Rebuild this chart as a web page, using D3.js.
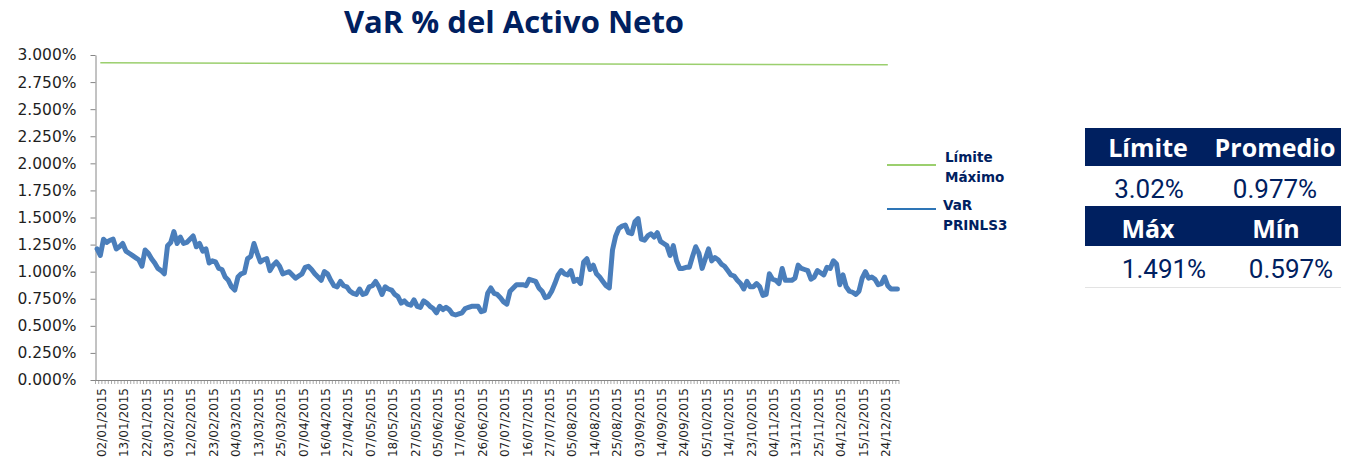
<!DOCTYPE html>
<html>
<head>
<meta charset="utf-8">
<script src="https://cdn.jsdelivr.net/npm/d3@7"></script>
<style>
    body { margin: 0; background: #fff; }
    svg { display: block; }
</style>
</head>
<body>
<svg id="chart"></svg>
<script>
// ---- data ----
// business days (Mexico calendar) from 31/12/2014 to 31/12/2015, minus these
const skipDays = [
    "01/01/2015", "02/02/2015", "16/03/2015", "02/04/2015", "03/04/2015",
    "01/05/2015", "10/06/2015", "16/09/2015", "02/11/2015", "16/11/2015", "25/12/2015"
];

const tickLabels = [
    "02/01/2015", "13/01/2015", "22/01/2015", "03/02/2015", "12/02/2015", "23/02/2015",
    "04/03/2015", "13/03/2015", "25/03/2015", "07/04/2015", "16/04/2015", "27/04/2015",
    "07/05/2015", "18/05/2015", "27/05/2015", "05/06/2015", "17/06/2015", "26/06/2015",
    "07/07/2015", "16/07/2015", "27/07/2015", "05/08/2015", "14/08/2015", "25/08/2015",
    "03/09/2015", "14/09/2015", "24/09/2015", "05/10/2015", "14/10/2015", "23/10/2015",
    "04/11/2015", "13/11/2015", "25/11/2015", "04/12/2015", "15/12/2015", "24/12/2015"
];

// VaR PRINLS3, % of net assets
const varValues = [
    1.21, 1.15, 1.30, 1.27, 1.29, 1.30, 1.21, 1.23, 1.26, 1.19,
    1.17, 1.15, 1.13, 1.11, 1.05, 1.20, 1.17, 1.12, 1.08, 1.03,
    1.01, 0.98, 1.24, 1.27, 1.37, 1.26, 1.32, 1.26, 1.27, 1.30,
    1.33, 1.23, 1.26, 1.19, 1.21, 1.08, 1.10, 1.09, 1.03, 1.02,
    0.95, 0.92, 0.86, 0.83, 0.95, 0.98, 0.99, 1.12, 1.14, 1.26,
    1.17, 1.09, 1.11, 1.12, 1.01, 1.06, 1.09, 1.05, 0.98, 0.99,
    1.00, 0.97, 0.94, 0.96, 0.98, 1.04, 1.05, 1.02, 0.98, 0.95,
    0.92, 1.00, 0.98, 0.92, 0.87, 0.86, 0.91, 0.87, 0.86, 0.82,
    0.80, 0.79, 0.84, 0.79, 0.80, 0.86, 0.87, 0.91, 0.86, 0.79,
    0.86, 0.84, 0.83, 0.79, 0.77, 0.71, 0.73, 0.70, 0.69, 0.74,
    0.68, 0.67, 0.73, 0.71, 0.68, 0.66, 0.62, 0.68, 0.65, 0.67,
    0.65, 0.61, 0.60, 0.61, 0.62, 0.66, 0.67, 0.68, 0.68, 0.68,
    0.63, 0.64, 0.80, 0.85, 0.80, 0.79, 0.76, 0.72, 0.70, 0.82,
    0.85, 0.88, 0.88, 0.88, 0.87, 0.93, 0.92, 0.91, 0.85, 0.82,
    0.76, 0.77, 0.82, 0.89, 0.97, 1.01, 0.98, 0.97, 1.01, 0.91,
    0.93, 0.89, 1.09, 1.12, 1.02, 1.06, 0.98, 0.95, 0.91, 0.87,
    0.85, 1.20, 1.33, 1.40, 1.42, 1.43, 1.36, 1.35, 1.46, 1.49,
    1.30, 1.29, 1.33, 1.35, 1.32, 1.36, 1.28, 1.26, 1.24, 1.15,
    1.24, 1.10, 1.03, 1.03, 1.04, 1.04, 1.14, 1.23, 1.17, 1.03,
    1.12, 1.21, 1.10, 1.13, 1.11, 1.07, 1.05, 1.01, 0.97, 0.96,
    0.92, 0.89, 0.84, 0.91, 0.86, 0.86, 0.89, 0.86, 0.78, 0.79,
    0.98, 0.93, 0.92, 0.89, 1.03, 0.92, 0.92, 0.92, 0.94, 1.06,
    1.03, 1.02, 1.01, 0.93, 0.95, 1.01, 0.99, 0.97, 1.04, 1.03,
    1.10, 1.07, 0.88, 0.97, 0.86, 0.82, 0.81, 0.79, 0.82, 0.94,
    1.00, 0.94, 0.95, 0.93, 0.88, 0.89, 0.95, 0.87, 0.84, 0.84,
    0.84
];

// Límite Máximo
const limitDates = ["02/01/2015", "28/12/2015"];
const limitValues = [2.928, 2.910];

const yTickValues = [0, 0.25, 0.5, 0.75, 1, 1.25, 1.5, 1.75, 2, 2.25, 2.5, 2.75, 3];

const legendLabels = [["Límite", "Máximo"], ["VaR", "PRINLS3"]];

const tableHeaderTop = ["Límite", "Promedio"];
const tableValuesTop = ["3.02%", "0.977%"];
const tableHeaderBottom = ["Máx", "Mín"];
const tableValuesBottom = ["1.491%", "0.597%"];

// ---- build categories ----
const parseDate = d3.utcParse("%d/%m/%Y");
const fmtDate = d3.utcFormat("%d/%m/%Y");
const dates = d3.utcDay
    .range(parseDate("31/12/2014"), parseDate("01/01/2016"))
    .filter(d => d.getUTCDay() !== 0 && d.getUTCDay() !== 6)
    .map(fmtDate)
    .filter(d => !skipDays.includes(d));

const config = {
    width: 1350,
    height: 459,
    plot: { left: 95.5, right: 899, top: 55, bottom: 380 },
    navy: "#002060",
    axisColor: "#868686"
};

const svg = d3.select("#chart")
    .attr("width", config.width)
    .attr("height", config.height);

// scales
const xBand = d3.scaleBand()
    .domain(dates)
    .range([config.plot.left, config.plot.right])
    .padding(0);
const xCenter = d => xBand(d) + xBand.bandwidth() / 2;

const yScale = d3.scaleLinear()
    .domain([0, 3])
    .range([config.plot.bottom, config.plot.top]);

// title
svg.append("text")
    .attr("x", 514)
    .attr("y", 33)
    .attr("text-anchor", "middle")
    .style("font-family", "'Open Sans', sans-serif")
    .style("font-weight", 700)
    .style("font-size", "31px")
    .style("fill", config.navy)
    .text("VaR % del Activo Neto");

// y axis
const yAxis = d3.axisLeft(yScale)
    .tickValues(yTickValues)
    .tickSize(5)
    .tickSizeOuter(0)
    .tickFormat(d => d.toFixed(3) + "%");

const yAxisG = svg.append("g")
    .attr("transform", `translate(${config.plot.left},0)`)
    .call(yAxis);
yAxisG.select(".domain").attr("stroke", config.axisColor);
yAxisG.selectAll(".tick line").attr("stroke", config.axisColor);
yAxisG.selectAll(".tick text")
    .attr("x", -19)
    .style("font-family", "'DejaVu Sans', sans-serif")
    .style("font-size", "15.5px")
    .style("fill", "#1f1f1f");

// x axis: line, one tick between every category, rotated labels
const xAxisG = svg.append("g").attr("class", "x-axis");
xAxisG.append("line")
    .attr("x1", config.plot.left)
    .attr("x2", config.plot.right)
    .attr("y1", config.plot.bottom + 0.5)
    .attr("y2", config.plot.bottom + 0.5)
    .attr("stroke", config.axisColor);

xAxisG.selectAll(".cat-tick")
    .data(dates.map(d => xBand(d)).concat([config.plot.right]))
    .enter()
    .append("line")
    .attr("class", "cat-tick")
    .attr("x1", d => d)
    .attr("x2", d => d)
    .attr("y1", config.plot.bottom)
    .attr("y2", config.plot.bottom + 4)
    .attr("stroke", config.axisColor)
    .attr("stroke-width", 0.7);

xAxisG.selectAll(".x-label")
    .data(tickLabels)
    .enter()
    .append("text")
    .attr("class", "x-label")
    .attr("transform", d => `translate(${xCenter(d) + 1.5},${config.plot.bottom + 8}) rotate(-90)`)
    .attr("text-anchor", "end")
    .attr("dy", "0.35em")
    .attr("textLength", 69)
    .attr("lengthAdjust", "spacingAndGlyphs")
    .style("font-family", "'DejaVu Sans', sans-serif")
    .style("font-size", "11.5px")
    .style("fill", "#1f1f1f")
    .text(d => d);

// series
const limitLine = d3.line()
    .x(d => xCenter(d.date))
    .y(d => yScale(d.value));
svg.append("path")
    .datum(limitDates.map((d, i) => ({ date: d, value: limitValues[i] })))
    .attr("d", limitLine)
    .attr("fill", "none")
    .attr("stroke", "#9bcf6e")
    .attr("stroke-width", 1.5);

const varLine = d3.line()
    .x((d, i) => xCenter(dates[i]))
    .y(d => yScale(d));
svg.append("path")
    .datum(varValues)
    .attr("d", varLine)
    .attr("fill", "none")
    .attr("stroke", "#4a7ebb")
    .attr("stroke-width", 5)
    .attr("stroke-linejoin", "round")
    .attr("stroke-linecap", "round");

// legend
const legend = svg.append("g").attr("class", "legend");
const legendColors = ["#9bcf6e", "#2e75b6"];
const legendLineY = [165, 209];
const legendTextY = [162, 210];
legendLabels.forEach((lines, i) => {
    legend.append("line")
        .attr("x1", 887).attr("x2", 936)
        .attr("y1", legendLineY[i]).attr("y2", legendLineY[i])
        .attr("stroke", legendColors[i])
        .attr("stroke-width", 2);
    lines.forEach((t, j) => {
        legend.append("text")
            .attr("x", i === 0 ? 945 : 943)
            .attr("y", legendTextY[i] + j * 20)
            .style("font-family", "'DejaVu Sans', sans-serif")
            .style("font-weight", 700)
            .style("font-size", "13.5px")
            .style("fill", config.navy)
            .text(t);
    });
});

// stats table
const table = svg.append("g").attr("class", "stats");
const tableX = 1085, tableW = 256;
const headerRows = [
    { y: 128, h: 38, base: 157, labels: tableHeaderTop, xs: [1148, 1275] },
    { y: 206, h: 40, base: 238, labels: tableHeaderBottom, xs: [1148, 1276] }
];
const valueRows = [
    { base: 198, labels: tableValuesTop, xs: [1149, 1275] },
    { base: 278, labels: tableValuesBottom, xs: [1164, 1291] }
];

headerRows.forEach(row => {
    table.append("rect")
        .attr("x", tableX).attr("y", row.y)
        .attr("width", tableW).attr("height", row.h)
        .attr("fill", config.navy);
    row.labels.forEach((t, i) => {
        table.append("text")
            .attr("x", row.xs[i]).attr("y", row.base)
            .attr("text-anchor", "middle")
            .style("font-family", "'Open Sans', sans-serif")
            .style("font-weight", 700)
            .style("font-size", "25px")
            .style("fill", "#fff")
            .text(t);
    });
});

valueRows.forEach(row => {
    row.labels.forEach((t, i) => {
        table.append("text")
            .attr("x", row.xs[i]).attr("y", row.base)
            .attr("text-anchor", "middle")
            .style("font-family", "Roboto, sans-serif")
            .style("font-size", "26px")
            .style("fill", config.navy)
            .text(t);
    });
});

table.append("line")
    .attr("x1", tableX).attr("x2", tableX + tableW)
    .attr("y1", 287.5).attr("y2", 287.5)
    .attr("stroke", "#e3e3e3");
</script>
</body>
</html>
